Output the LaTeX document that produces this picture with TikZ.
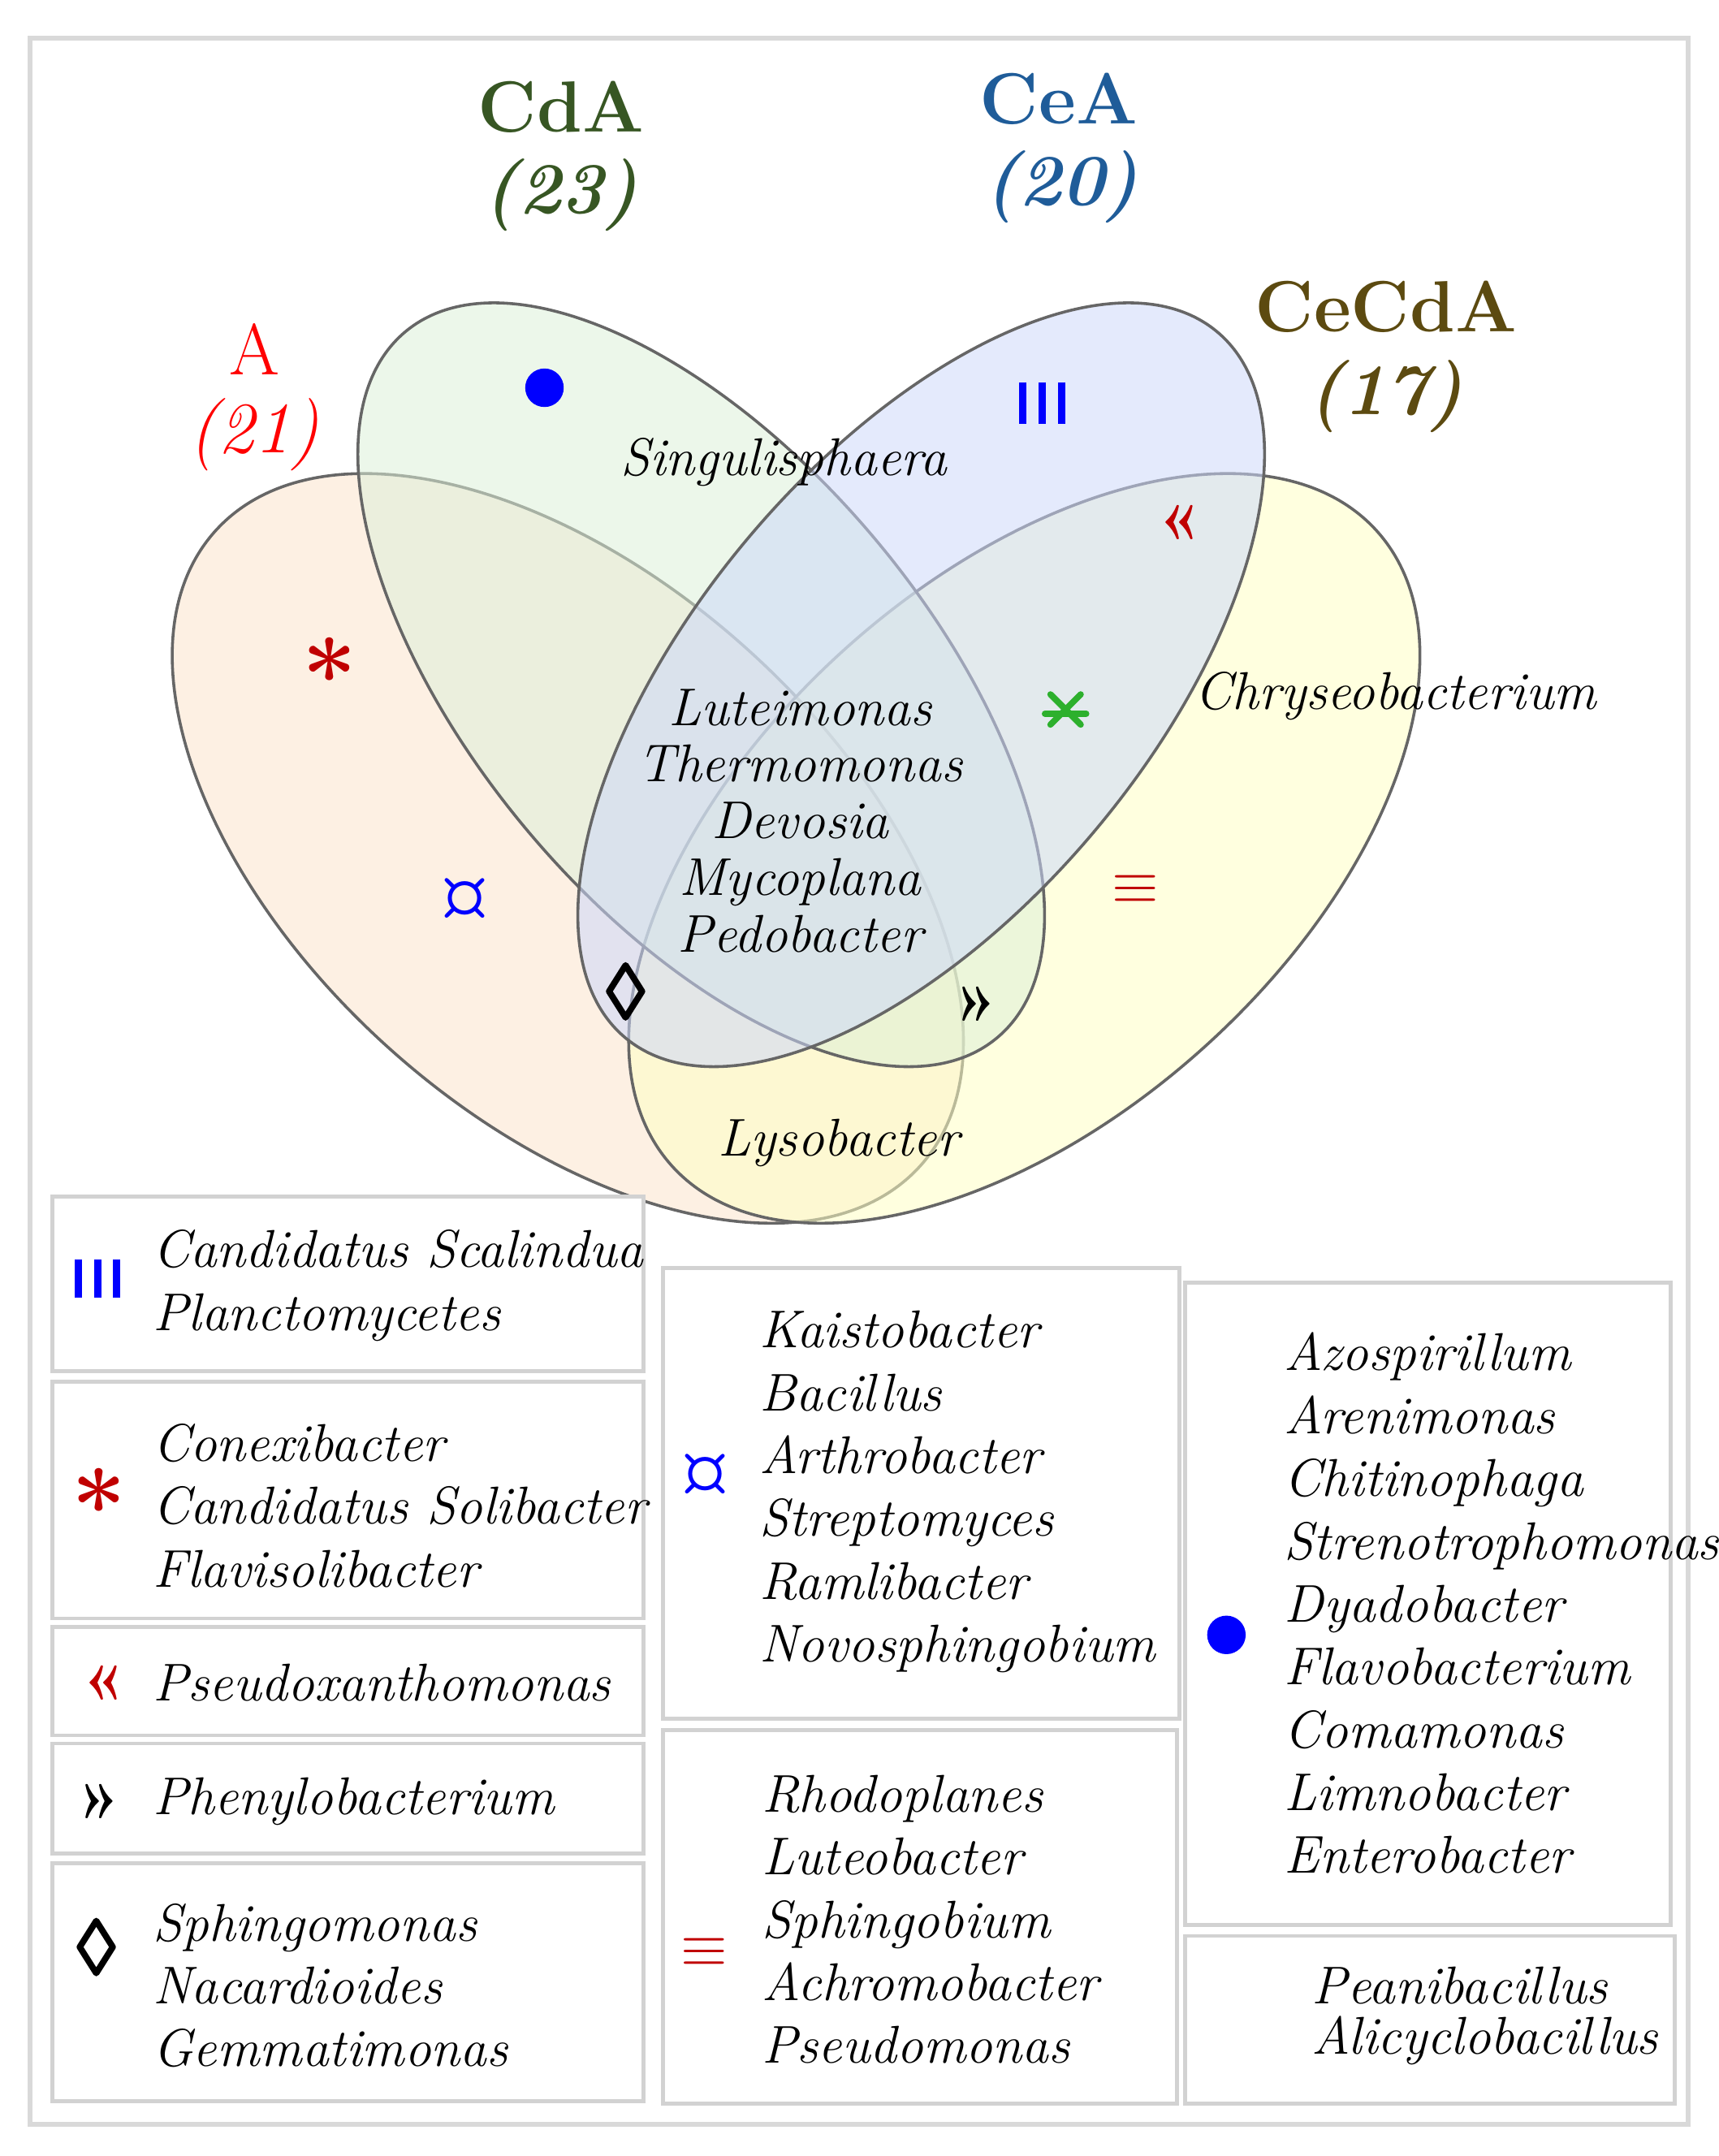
\documentclass[tikz,border=0pt]{standalone}
\usepackage{fontspec}
\begin{document}
\begin{tikzpicture}[x=0.02cm,y=-0.02cm,
  lab/.style={font=\fontsize{22}{26}\selectfont\itshape},
  ttl/.style={font=\fontsize{30}{34}\selectfont\bfseries},
  sym/.style={font=\fontsize{30}{34}\selectfont\bfseries},
  box/.style={draw=gray!35,line width=1.6pt,fill=white},
  dia/.style={line width=2.6pt,line join=round},
  ell/.style={draw=gray!80!black,line width=1.2pt,fill opacity=0.55}]
\useasboundingbox (0,0) rectangle (1250,1568);
\draw[gray!30,line width=2pt] (22,28) rectangle (1228,1545);
\definecolor{cA}{HTML}{FBE3CC}\definecolor{cY}{HTML}{FFFFC4}
\definecolor{cG}{HTML}{DDF0D8}\definecolor{cB}{HTML}{CDD8FA}
\definecolor{tG}{HTML}{375623}\definecolor{tB}{HTML}{1F5C99}
\definecolor{tY}{HTML}{5C4A10}\definecolor{dr}{HTML}{C00000}
\definecolor{gg}{HTML}{2DB02D}
\draw[ell,fill=cA,rotate around={-42:(413,617)}] (413,617) ellipse [x radius=345,y radius=195];
\draw[ell,fill=cY,rotate around={42:(745,617)}] (745,617) ellipse [x radius=345,y radius=195];
\draw[ell,fill=cG,rotate around={-50:(510,498)}] (510,498) ellipse [x radius=335,y radius=165];
\draw[ell,fill=cB,rotate around={50:(670,498)}] (670,498) ellipse [x radius=335,y radius=165];
% titles
\node[ttl,tG] (t1) at (408,78) {CdA};
\node[ttl,tG,font=\fontsize{30}{34}\selectfont\bfseries\itshape] (t1n) at (408,142) {(23)};
\node[ttl,tB] (t2) at (770,72) {CeA};
\node[ttl,tB,font=\fontsize{30}{34}\selectfont\bfseries\itshape] (t2n) at (772,136) {(20)};
\node[ttl,tY] (t3) at (1008,223) {CeCdA};
\node[ttl,tY,font=\fontsize{30}{34}\selectfont\bfseries\itshape] (t3n) at (1008,288) {(17)};
\node[ttl,red,font=\fontsize{30}{34}\selectfont] (t4) at (185,254) {A};
\node[red,font=\fontsize{30}{34}\selectfont\itshape] (t4n) at (185,316) {(21)};
% region labels
\node[lab] (sg) at (570,336) {Singulisphaera};
\node[lab,align=center,font=\fontsize{22}{23.5}\selectfont\itshape] (core) at (582,597) {Luteimonas\\Thermomonas\\Devosia\\Mycoplana\\Pedobacter};
\node[lab] (ch) at (1015,506) {Chryseobacterium};
\node[lab] (ly) at (610,831) {Lysobacter};
% symbols in diagram
\fill[blue] (396,282) circle (14);
\foreach \dx in {-14,0,14}{\draw[blue,line width=3pt] (758+\dx,278)--(758+\dx,308);}
\node[sym,dr] (s1) at (858,380) {\guillemotleft};
\node[sym,gg] (s2) at (408,451) {$\mathbf{\Theta}$};
\node[sym,dr,font=\fontsize{40}{40}\selectfont\bfseries] (s3) at (240,490) {*};
\begin{scope}[gg,line width=2.6pt,line cap=round]
\draw (764,505)--(786,527); \draw (786,505)--(764,527); \draw (760,519)--(790,519);
\end{scope}
\node[sym,blue] (s4) at (338,653) {¤};
\node[sym,dr] (s5) at (826,647) {$\equiv$};
\draw[dia] (455,702)--(467,721)--(455,740)--(443,721)--cycle;
\node[sym] (s7) at (710,730) {\guillemotright};
% legend boxes
\draw[box] (38,870) rectangle (468,997);
\foreach \dx in {-14,0,14}{\draw[blue,line width=3pt] (71+\dx,916)--(71+\dx,944);}
\node[lab,anchor=west,align=left] (l1) at (105,935) {Candidatus Scalindua\\Planctomycetes};
\draw[box] (38,1005) rectangle (468,1177);
\node[sym,dr,font=\fontsize{40}{40}\selectfont\bfseries] (l2s) at (72,1094) {*};
\node[lab,anchor=west,align=left] (l2) at (105,1095) {Conexibacter\\Candidatus Solibacter\\Flavisolibacter};
\draw[box] (38,1183) rectangle (468,1262);
\node[sym,dr] (l3s) at (75,1224) {\guillemotleft};
\node[lab,anchor=west] (l3) at (105,1224) {Pseudoxanthomonas};
\draw[box] (38,1268) rectangle (468,1348);
\node[sym] (l4s) at (72,1310) {\guillemotright};
\node[lab,anchor=west] (l4) at (105,1310) {Phenylobacterium};
\draw[box] (38,1355) rectangle (468,1528);
\draw[dia] (70,1397)--(82,1416)--(70,1435)--(58,1416)--cycle;
\node[lab,anchor=west,align=left] (l5) at (105,1444) {Sphingomonas\\Nacardioides\\Gemmatimonas};
\draw[box] (482,922) rectangle (858,1250);
\node[sym,blue] (l6s) at (513,1072) {¤};
\node[lab,anchor=west,align=left] (l6) at (546,1085) {Kaistobacter\\Bacillus\\Arthrobacter\\Streptomyces\\Ramlibacter\\Novosphingobium};
\draw[box] (482,1258) rectangle (856,1530);
\node[sym,dr] (l7s) at (512,1420) {$\equiv$};
\node[lab,anchor=west,align=left] (l7) at (548,1396) {Rhodoplanes\\Luteobacter\\Sphingobium\\Achromobacter\\Pseudomonas};
\draw[box] (862,933) rectangle (1215,1400);
\fill[blue] (892,1189) circle (14);
\node[lab,anchor=west,align=left] (l8) at (928,1166) {Azospirillum\\Arenimonas\\Chitinophaga\\Strenotrophomonas\\Dyadobacter\\Flavobacterium\\Comamonas\\Limnobacter\\Enterobacter};
\draw[box] (862,1408) rectangle (1218,1530);
\node[sym,gg] (l9s) at (902,1468) {$\mathbf{\Theta}$};
\node[lab,anchor=west,align=left,font=\fontsize{22}{21}\selectfont\itshape] (l9) at (948,1466) {Peanibacillus\\Alicyclobacillus};
\end{tikzpicture}
\end{document}
